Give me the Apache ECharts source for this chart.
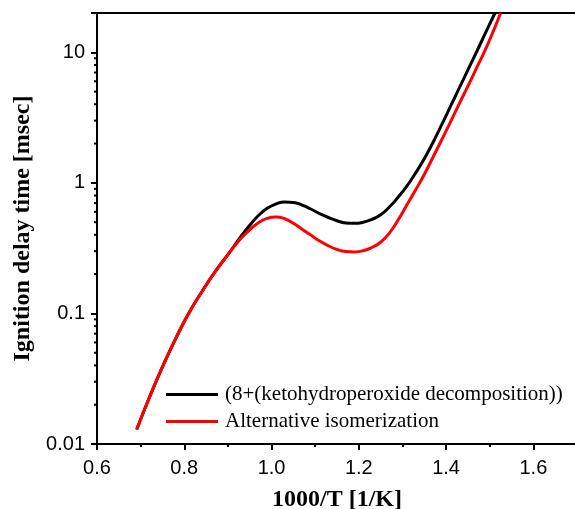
<!DOCTYPE html>
<html lang="en">

<head>
    <meta charset="UTF-8" />
    <title>Ignition delay time</title>
    <script src="https://cdn.jsdelivr.net/npm/echarts@6/dist/echarts.min.js"></script>
    <style>
        * {
            margin: 0;
        }

        #chart {
            width: 575px;
            height: 509px;
            background-color: #fff;
        }
    </style>
</head>

<body>
    <div id="chart"></div>
    <script>
        // curve values (x = 1000/T, y = delay in msec)
        const blackX = [0.691, 0.72, 0.75, 0.78, 0.81, 0.84, 0.87, 0.90, 0.93, 0.95, 0.97, 0.99, 1.01, 1.03, 1.05, 1.07, 1.09, 1.11, 1.13, 1.15, 1.17, 1.19, 1.21, 1.23, 1.25, 1.27, 1.29, 1.31, 1.33, 1.35, 1.37, 1.39, 1.41, 1.43, 1.45, 1.47, 1.49, 1.512];
        const blackY = [0.0129, 0.0227, 0.0389, 0.0638, 0.100, 0.146, 0.207, 0.282, 0.389, 0.473, 0.562, 0.638, 0.689, 0.714, 0.708, 0.676, 0.631, 0.582, 0.543, 0.513, 0.493, 0.490, 0.499, 0.525, 0.569, 0.653, 0.776, 0.944, 1.19, 1.53, 2.04, 2.79, 3.85, 5.31, 7.33, 10.1, 14.0, 20];
        const redX = [0.691, 0.72, 0.75, 0.78, 0.81, 0.84, 0.87, 0.90, 0.93, 0.95, 0.97, 0.99, 1.01, 1.03, 1.05, 1.07, 1.09, 1.11, 1.13, 1.15, 1.17, 1.19, 1.21, 1.23, 1.25, 1.27, 1.29, 1.31, 1.33, 1.35, 1.37, 1.39, 1.41, 1.43, 1.45, 1.47, 1.49, 1.51, 1.525];
        const redY = [0.0129, 0.0227, 0.0389, 0.0638, 0.100, 0.146, 0.207, 0.282, 0.376, 0.437, 0.495, 0.535, 0.547, 0.531, 0.490, 0.442, 0.398, 0.359, 0.330, 0.309, 0.298, 0.296, 0.302, 0.320, 0.351, 0.412, 0.519, 0.676, 0.881, 1.16, 1.57, 2.14, 2.92, 4.03, 5.50, 7.59, 10.5, 15.0, 20];

        const seriesNames = ["(8+(ketohydroperoxide decomposition))", "Alternative isomerization"];
        const yTickLabels = [0.01, 0.1, 1, 10];
        const yMinorTicks = [0.02, 0.03, 0.04, 0.05, 0.06, 0.07, 0.08, 0.09, 0.2, 0.3, 0.4, 0.5, 0.6, 0.7, 0.8, 0.9, 2, 3, 4, 5, 6, 7, 8, 9, 20];

        const zip = (xs, ys) => xs.map((x, i) => [x, ys[i]]);

        const myChart = echarts.init(document.getElementById("chart"));
        const option = {
            animation: false,
            grid: {
                left: 97,
                top: 13,
                right: -2,
                bottom: 65,
                outerBoundsMode: "none",
                containLabel: false,
                show: true,
                borderColor: "#000",
                borderWidth: 2,
            },
            legend: {
                data: seriesNames,
                orient: "vertical",
                left: 166,
                top: 384,
                padding: 0,
                icon: "rect",
                itemWidth: 52,
                itemHeight: 3,
                itemGap: 6,
                textStyle: { fontFamily: "Liberation Serif", fontSize: 21, color: "#000", padding: [0, 0, 0, 2] },
            },
            xAxis: {
                type: "value",
                min: 0.6,
                max: 1.7,
                interval: 0.2,
                name: "1000/T [1/K]",
                nameLocation: "middle",
                nameGap: 44,
                nameTextStyle: { fontFamily: "Liberation Serif", fontWeight: "bold", fontSize: 24, color: "#000" },
                axisLine: { lineStyle: { color: "#000", width: 2 } },
                axisTick: { length: 6, lineStyle: { color: "#000", width: 2 } },
                minorTick: { show: true, splitNumber: 2, length: 3, lineStyle: { color: "#000", width: 2 } },
                splitLine: { show: false },
                axisLabel: {
                    showMaxLabel: false,
                    margin: 14,
                    fontFamily: "Liberation Sans",
                    fontSize: 20,
                    color: "#000",
                    formatter: (v) => v.toFixed(1),
                },
            },
            yAxis: {
                type: "log",
                logBase: 10,
                min: 0.01,
                max: 20,
                name: "Ignition delay time [msec]",
                nameLocation: "middle",
                nameGap: 62,
                nameTextStyle: { fontFamily: "Liberation Serif", fontWeight: "bold", fontSize: 24, color: "#000" },
                axisLine: { lineStyle: { color: "#000", width: 2 } },
                axisTick: { length: 6, lineStyle: { color: "#000", width: 2 } },
                splitLine: { show: false },
                axisLabel: {
                    margin: 12,
                    fontFamily: "Liberation Sans",
                    fontSize: 20,
                    color: "#000",
                    formatter: (v) => {
                        const t = yTickLabels.find((t) => Math.abs(t - v) / t < 1e-6);
                        return t === undefined ? "" : String(t);
                    },
                },
            },
            series: [
                {
                    name: seriesNames[0],
                    type: "line",
                    data: zip(blackX, blackY),
                    smooth: 0.5,
                    symbol: "none",
                    color: "#000",
                    lineStyle: { color: "#000", width: 3 },
                },
                {
                    name: seriesNames[1],
                    type: "line",
                    data: zip(redX, redY),
                    smooth: 0.5,
                    symbol: "none",
                    color: "#ff0000",
                    lineStyle: { color: "#ff0000", width: 3 },
                },
                {
                    // minor ticks of the log axis
                    type: "custom",
                    silent: true,
                    clip: false,
                    data: yMinorTicks.map((v) => [0.6, v]),
                    renderItem: (params, api) => {
                        const p = api.coord([api.value(0), api.value(1)]);
                        return {
                            type: "line",
                            shape: { x1: p[0] - 3, y1: p[1], x2: p[0], y2: p[1] },
                            style: { stroke: "#000", lineWidth: 2 },
                        };
                    },
                },
            ],
        };

        myChart.setOption(option);
    </script>
</body>

</html>
